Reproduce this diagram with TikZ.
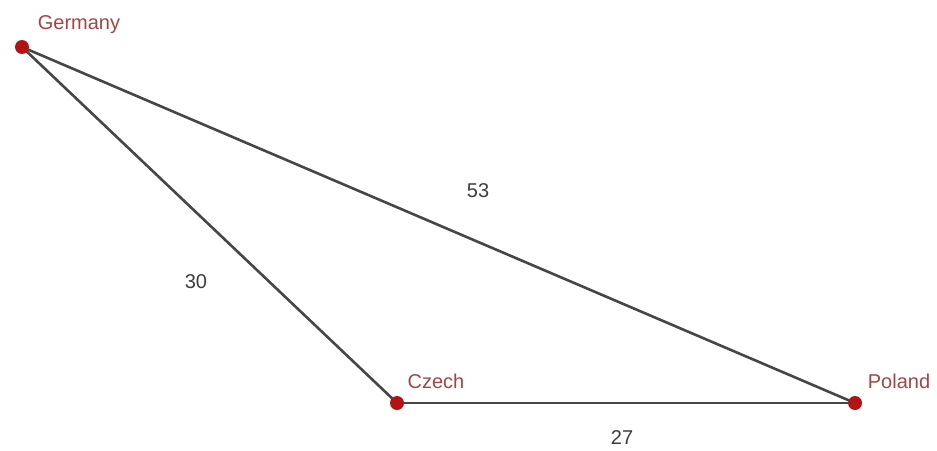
\documentclass[tikz,border=0pt]{standalone}
\usepackage{fontspec}
\setmainfont{Liberation Sans}
\definecolor{dotred}{RGB}{178,20,20}
\definecolor{labred}{RGB}{160,70,70}
\definecolor{edgegray}{RGB}{70,70,70}
\definecolor{numgray}{RGB}{60,60,60}
\begin{document}
\begin{tikzpicture}[x=1pt,y=-1pt,
  city/.style={circle,fill=dotred,inner sep=0pt,minimum size=14pt},
  citylabel/.style={text=labred,font=\fontsize{20}{20}\selectfont,inner sep=0pt},
  edge/.style={draw=edgegray,line width=2.6pt},
  weight/.style={text=numgray,font=\fontsize{20}{20}\selectfont,inner sep=0pt}]
\useasboundingbox (0,0) rectangle (937,450);
\coordinate (g) at (22,47);
\coordinate (c) at (397,403);
\coordinate (p) at (855,403);
\draw[edge] (g) -- (c);
\draw[edge] (g) -- (p);
\draw[edge] (c) -- (p);
\node[city] (G) at (g) {};
\node[city] (C) at (c) {};
\node[city] (P) at (p) {};
\node[citylabel] (Gl) at (79,25) {Germany};
\node[citylabel] (Cl) at (436,381) {Czech};
\node[citylabel] (Pl) at (899,381) {Poland};
\node[weight] (w53) at (478,191) {53};
\node[weight] (w30) at (196,282) {30};
\node[weight] (w27) at (622,438) {27};
\end{tikzpicture}
\end{document}
